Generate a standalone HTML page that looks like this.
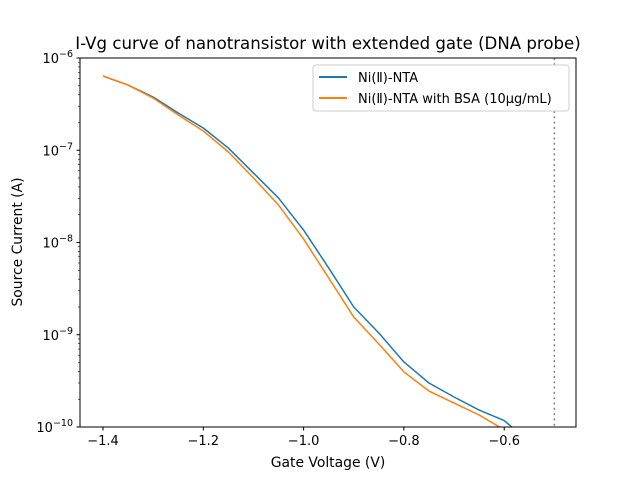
<!DOCTYPE html>
<html><head><meta charset="utf-8"><style>
body{margin:0;background:#fff;font-family:"Liberation Sans","DejaVu Sans",sans-serif}
svg text{font-family:"DejaVu Sans","Liberation Sans",sans-serif}
</style></head><body>
<svg id="chart" width="640" height="480" xmlns="http://www.w3.org/2000/svg">
<rect width="640" height="480" fill="#fff"/>
<defs><clipPath id="clip"><rect x="80" y="58" width="496" height="369"/></clipPath></defs>
<text x="328" y="49" font-size="16.6" text-anchor="middle">I-Vg curve of nanotransistor with extended gate (DNA probe)</text>
<g id="ticks"></g>
<g id="series" clip-path="url(#clip)"></g>
<line id="vline" y1="58" y2="427" stroke="#808080" stroke-width="1.5" stroke-dasharray="2,3.3"/>
<rect x="80" y="58" width="496" height="369" fill="none" stroke="#000" stroke-width="1"/>
<text x="328" y="467" font-size="13.9" text-anchor="middle">Gate Voltage (V)</text>
<text transform="translate(22,242) rotate(-90)" font-size="13.9" text-anchor="middle">Source Current (A)</text>
<g>
<rect x="313" y="65" width="256" height="46" rx="3" fill="#fff" stroke="#ccc" stroke-width="1"/>
<line x1="319" y1="77" x2="347" y2="77" stroke="#1f77b4" stroke-width="2"/>
<text x="358" y="82" font-size="13">Ni(Ⅱ)-NTA</text>
<line x1="319" y1="98" x2="347" y2="98" stroke="#ff7f0e" stroke-width="2"/>
<text x="358" y="103" font-size="13">Ni(Ⅱ)-NTA with BSA (10μg/mL)</text>
</g>
</svg>
<script>
const voltages=[-1.4,-1.35,-1.3,-1.25,-1.2,-1.15,-1.1,-1.05,-1.0,-0.95,-0.9,-0.85,-0.8,-0.75,-0.7,-0.65,-0.6,-0.55];
const logBlue=[-6.195,-6.293,-6.423,-6.596,-6.759,-6.976,-7.247,-7.518,-7.865,-8.276,-8.699,-8.981,-9.295,-9.523,-9.675,-9.816,-9.93,-10.16];
const logOrange=[-6.195,-6.293,-6.434,-6.618,-6.791,-7.019,-7.301,-7.594,-7.963,-8.385,-8.808,-9.100,-9.403,-9.610,-9.740,-9.870,-10.03,-10.26];
const blueCurrent=logBlue.map(v=>Math.pow(10,v));
const orangeCurrent=logOrange.map(v=>Math.pow(10,v));
const xTicks=[-1.4,-1.2,-1.0,-0.8,-0.6];
const xTickLabels=["−1.4","−1.2","−1.0","−0.8","−0.6"];
const yDecades=[-10,-9,-8,-7,-6];
const thresholdV=-0.5;
const NS="http://www.w3.org/2000/svg";
function xs(v){return 103+(v+1.4)*501.5;}
function ys(i){return 58+(-6-Math.log10(i))*92.25;}
function el(t,a,p){const e=document.createElementNS(NS,t);for(const k in a)e.setAttribute(k,a[k]);p.appendChild(e);return e;}
const tg=document.getElementById('ticks');
xTicks.forEach((v,i)=>{const x=xs(v);
const l=el('line',{x1:x,x2:x,y1:427,y2:430.5,stroke:'#000'},tg);


const t=el('text',{x:x,y:445,'font-size':'13','text-anchor':'middle'},tg);t.textContent=xTickLabels[i];

});
yDecades.forEach(d=>{const y=ys(Math.pow(10,d));
const l=el('line',{x1:76.5,x2:80,y1:y,y2:y,stroke:'#000'},tg);


const t=el('text',{x:73,y:y+5,'font-size':'13','text-anchor':'end'},tg);
t.innerHTML='10<tspan dy="-6" font-size="9.5">−'+(-d)+'</tspan>';


if(d<-6)for(let m=2;m<10;m++){const yy=ys(m*Math.pow(10,d));
const ml=el('line',{x1:78,x2:80,y1:yy,y2:yy,stroke:'#000','stroke-width':0.6},tg);

}});
const sg=document.getElementById('series');
[[blueCurrent,'#1f77b4','series-ni-nta'],[orangeCurrent,'#ff7f0e','series-ni-nta-bsa']].forEach(([s,c,n])=>{
const p=el('polyline',{points:voltages.map((v,i)=>xs(v)+','+ys(s[i])).join(' '),fill:'none',stroke:c,'stroke-width':1.5,'stroke-linejoin':'round'},sg);

});
const vl=document.getElementById('vline');vl.setAttribute('x1',xs(thresholdV));vl.setAttribute('x2',xs(thresholdV));
</script>
</body></html>
